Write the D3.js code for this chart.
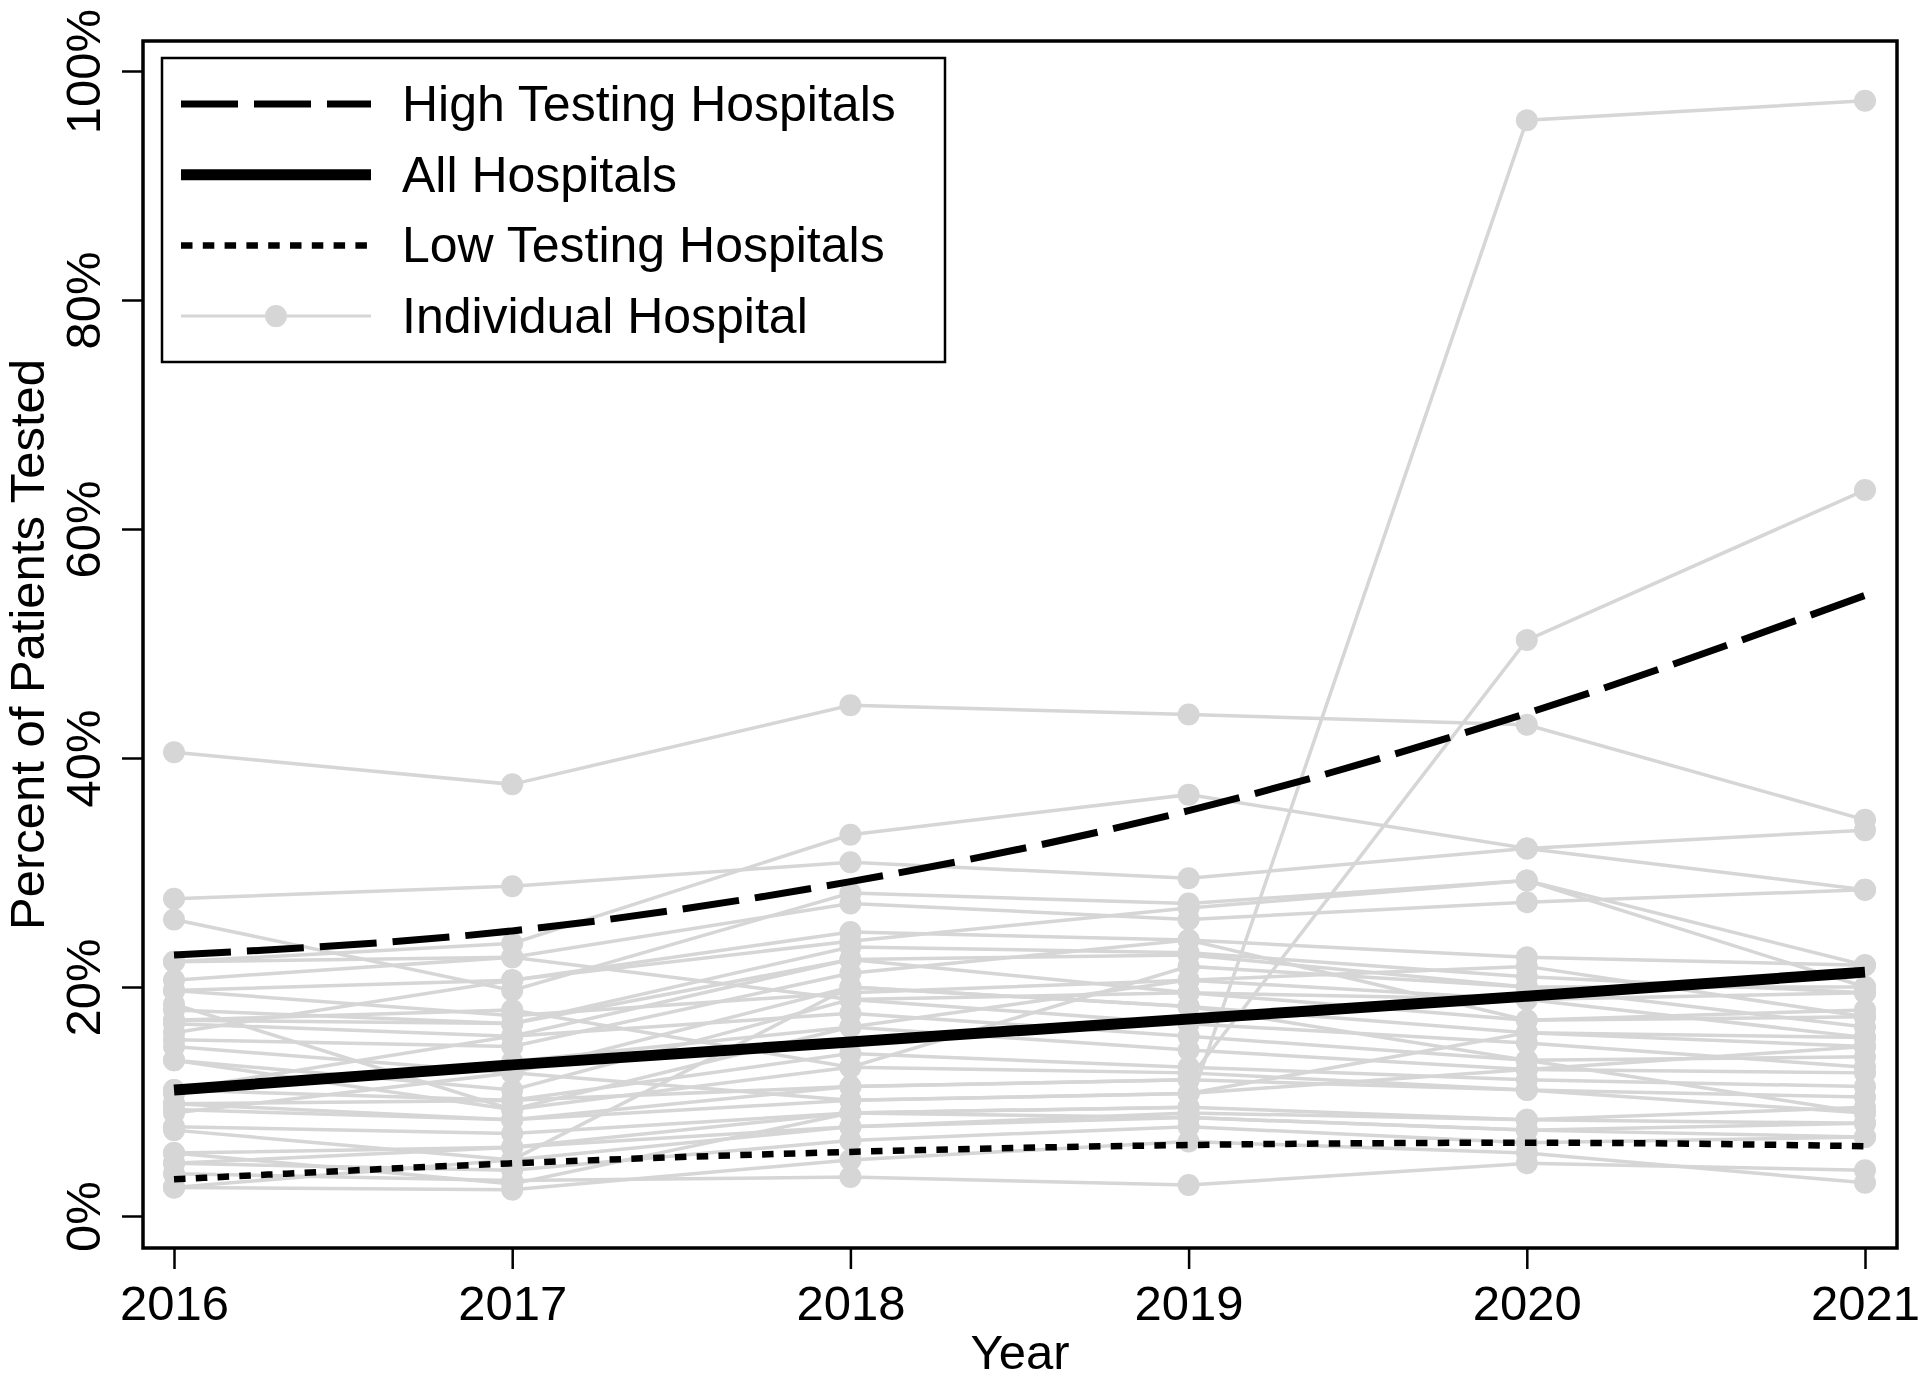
<!DOCTYPE html>
<html>
<head>
<meta charset="utf-8">
<script src="https://cdn.jsdelivr.net/npm/d3@7"></script>
<style>
  body { margin: 0; background: #fff; }
  svg { display: block; }
  text { font-family: "Liberation Sans", Arial, Helvetica, sans-serif; fill: #000; }
</style>
</head>
<body>
<div class="graph-section"></div>
<script>
var years = [2016, 2017, 2018, 2019, 2020, 2021];

// summary lines (percent tested)
var highTesting = [22.8, 24.9, 29.2, 35.4, 43.9, 54.2];
var allHospitals = [11.0, 13.2, 15.2, 17.2, 19.2, 21.3];
var lowTesting = [3.2, 4.6, 5.6, 6.2, 6.4, 6.1];

// one row per hospital, 2016..2021
var hospitals = [
  [40.5, 37.7, 44.6, 43.8, 42.9, 34.6],
  [27.7, 28.8, 30.9, 29.5, 32.1, 33.7],
  [22.2, 23.8, 33.3, 36.8, 32.1, 28.5],
  [25.9, 19.7, 28.2, 27.3, 29.3, 20.0],
  [20.6, 22.6, 27.3, 25.9, 27.4, 28.5],
  [19.7, 20.6, 24.8, 24.1, 22.6, 21.9],
  [18.5, 9.3, 16.5, 20.6, 21.8, 17.4],
  [18.0, 16.8, 23.5, 23.0, 20.9, 19.5],
  [17.1, 18.0, 13.0, 21.8, 20.0, 16.5],
  [16.8, 15.7, 22.4, 19.5, 18.9, 15.6],
  [15.4, 14.8, 21.2, 24.1, 17.1, 18.0],
  [14.8, 12.5, 20.0, 18.3, 16.0, 14.8],
  [13.6, 11.0, 18.9, 16.8, 15.1, 13.0],
  [11.0, 15.7, 17.7, 15.7, 13.6, 13.9],
  [10.7, 13.5, 16.5, 14.5, 12.8, 12.5],
  [9.8, 10.1, 14.2, 13.0, 11.9, 11.3],
  [9.3, 8.4, 11.3, 11.9, 11.0, 10.4],
  [9.0, 12.5, 10.1, 10.7, 16.0, 15.6],
  [7.8, 7.2, 9.0, 9.5, 8.4, 9.5],
  [7.5, 4.9, 20.0, 18.3, 13.6, 9.0],
  [5.5, 6.0, 7.8, 8.6, 7.5, 8.1],
  [4.6, 4.0, 6.6, 7.8, 6.4, 6.9],
  [3.7, 3.1, 3.4, 2.7, 4.6, 4.0],
  [2.5, 2.3, 4.9, 6.5, 5.5, 2.9],
  [4.6, 6.0, 9.0, 9.5, 95.7, 97.4],
  [11.0, 10.1, 11.3, 11.9, 50.3, 63.4],
  [19.7, 17.5, 19.5, 20.6, 18.9, 19.5],
  [17.1, 16.8, 22.4, 22.8, 20.0, 20.0],
  [13.6, 9.3, 13.0, 12.5, 11.0, 9.0],
  [2.5, 4.9, 7.8, 9.0, 8.4, 8.1],
  [16.0, 20.6, 24.0, 26.9, 29.3, 21.9],
  [9.8, 8.4, 10.1, 10.7, 12.8, 14.8],
  [5.5, 2.8, 9.0, 8.6, 7.5, 6.9],
  [22.2, 22.6, 18.9, 19.5, 17.1, 17.4]
];

var yTicks = [0, 20, 40, 60, 80, 100];
var legendLabels = ["High Testing Hospitals", "All Hospitals", "Low Testing Hospitals", "Individual Hospital"];

var screen = {width: 1920, height: 1382};
var frame = {left: 143, top: 41, right: 1897, bottom: 1248};
var gray = "#d6d6d6";

var xScale = d3.scaleLinear()
              .domain([2016, 2021])
              .range([174, 1865]);

var yScale = d3.scaleLinear()
              .domain([0, 100])
              .range([1216, 71]);

var svg = d3.select(".graph-section")
          .append("svg")
          .attr("width", screen.width)
          .attr("height", screen.height);

var line = d3.line()
             .x(function(d, i){ return xScale(years[i]); })
             .y(function(d){ return yScale(d); });

var smooth = d3.line()
               .curve(d3.curveMonotoneX)
               .x(function(d, i){ return xScale(years[i]); })
               .y(function(d){ return yScale(d); });

// individual hospitals
var hosp = svg.append("g").classed("hospitals", true)
              .selectAll("g")
              .data(hospitals)
              .enter()
              .append("g");

hosp.append("path")
    .attr("d", line)
    .attr("fill", "none")
    .attr("stroke", gray)
    .attr("stroke-width", 3.5);

hosp.selectAll("circle")
    .data(function(d){ return d; })
    .enter()
    .append("circle")
    .attr("cx", function(d, i){ return xScale(years[i]); })
    .attr("cy", function(d){ return yScale(d); })
    .attr("r", 11)
    .attr("fill", gray);

// summary lines
svg.append("path")
   .attr("d", smooth(highTesting))
   .attr("fill", "none")
   .attr("stroke", "#000")
   .attr("stroke-width", 7)
   .attr("stroke-dasharray", "57,16");

svg.append("path")
   .attr("d", smooth(allHospitals))
   .attr("fill", "none")
   .attr("stroke", "#000")
   .attr("stroke-width", 11);

svg.append("path")
   .attr("d", smooth(lowTesting))
   .attr("fill", "none")
   .attr("stroke", "#000")
   .attr("stroke-width", 6.5)
   .attr("stroke-dasharray", "11.5,10.3");

// frame
svg.append("rect")
   .attr("x", frame.left)
   .attr("y", frame.top)
   .attr("width", frame.right - frame.left)
   .attr("height", frame.bottom - frame.top)
   .attr("fill", "none")
   .attr("stroke", "#000")
   .attr("stroke-width", 3.5);

// axes
var yAxis = d3.axisLeft(yScale)
              .tickValues(yTicks)
              .tickSize(21)
              .tickFormat(function(d){ return d + "%"; });

var yG = svg.append("g")
            .attr("transform", "translate(" + frame.left + ",0)")
            .call(yAxis);
yG.select(".domain").remove();
yG.selectAll(".tick line").attr("stroke", "#000").attr("stroke-width", 2.5);
yG.selectAll(".tick text")
  .attr("x", null)
  .attr("dy", null)
  .attr("transform", "translate(-43,0) rotate(-90)")
  .attr("text-anchor", "middle")
  .style("font-size", "49px")
  .style("font-family", "'Liberation Sans', Arial, sans-serif")
  .attr("fill", "#000");

var xAxis = d3.axisBottom(xScale)
              .tickValues(years)
              .tickSize(21)
              .tickFormat(d3.format("d"));

var xG = svg.append("g")
            .attr("transform", "translate(0," + frame.bottom + ")")
            .call(xAxis);
xG.select(".domain").remove();
xG.selectAll(".tick line").attr("stroke", "#000").attr("stroke-width", 2.5);
xG.selectAll(".tick text")
  .attr("y", 72)
  .attr("dy", null)
  .style("font-size", "49px")
  .style("font-family", "'Liberation Sans', Arial, sans-serif")
  .attr("fill", "#000");

// axis titles
svg.append("text")
   .attr("x", (frame.left + frame.right) / 2)
   .attr("y", 1369)
   .attr("text-anchor", "middle")
   .style("font-size", "49px")
   .text("Year");

svg.append("text")
   .attr("transform", "translate(44," + ((frame.top + frame.bottom) / 2) + ") rotate(-90)")
   .attr("text-anchor", "middle")
   .style("font-size", "49px")
   .text("Percent of Patients Tested");

// legend
var legend = svg.append("g").classed("legend", true);

legend.append("rect")
      .attr("x", 162)
      .attr("y", 58)
      .attr("width", 783)
      .attr("height", 304)
      .attr("fill", "#fff")
      .attr("stroke", "#000")
      .attr("stroke-width", 2.5);

var legendStyles = [
  {width: 7, dash: "57,16", color: "#000"},
  {width: 11, dash: null, color: "#000"},
  {width: 6.5, dash: "11.5,10.3", color: "#000"},
  {width: 3, dash: null, color: gray}
];

var legendLines = legend.selectAll("g")
                        .data(legendLabels)
                        .enter()
                        .append("g")
                        .attr("transform", function(d, i){
                          return "translate(0," + (104 + i * 70.7) + ")";
                        });

legendLines.append("line")
           .attr("x1", 181)
           .attr("x2", 371)
           .attr("y1", 0)
           .attr("y2", 0)
           .attr("stroke", function(d, i){ return legendStyles[i].color; })
           .attr("stroke-width", function(d, i){ return legendStyles[i].width; })
           .attr("stroke-dasharray", function(d, i){ return legendStyles[i].dash; });

legendLines.filter(function(d, i){ return i == 3; })
           .append("circle")
           .attr("cx", 276)
           .attr("cy", 0)
           .attr("r", 11)
           .attr("fill", gray);

legendLines.append("text")
           .attr("x", 402)
           .attr("y", 17)
           .style("font-size", "50px")
           .text(function(d){ return d; });
</script>
</body>
</html>
